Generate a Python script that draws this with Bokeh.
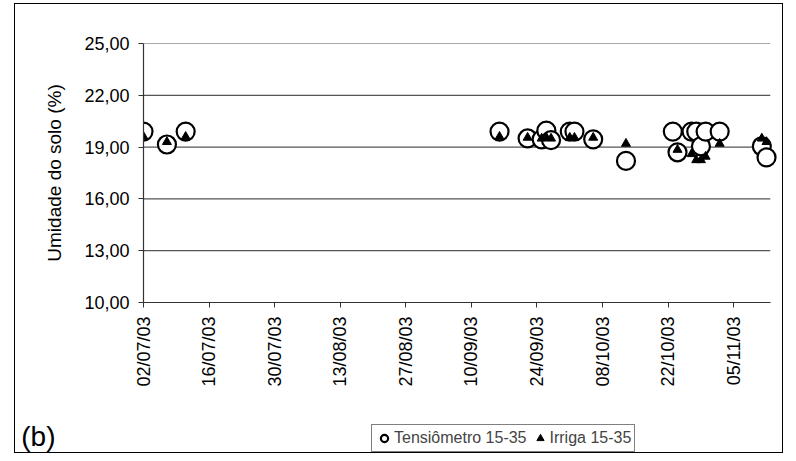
from datetime import datetime, timedelta
from bokeh.plotting import figure
from bokeh.layouts import column
from bokeh.models import (Range1d, FixedTicker, DatetimeTickFormatter, Legend,
                          LegendItem, ColumnDataSource)
from bokeh.embed import file_html
from bokeh.resources import INLINE

# ---- data ----
tens_dates = ["02/07/03", "07/07/03", "11/07/03", "16/09/03", "22/09/03", "25/09/03",
              "26/09/03", "27/09/03", "01/10/03", "02/10/03", "06/10/03", "13/10/03",
              "23/10/03", "24/10/03", "27/10/03", "28/10/03", "29/10/03", "30/10/03",
              "02/11/03", "11/11/03", "12/11/03"]
tens_vals = [19.9, 19.15, 19.9, 19.9, 19.5, 19.45, 19.95, 19.4, 19.9, 19.9, 19.45, 18.2,
             19.9, 18.7, 19.9, 19.9, 19.05, 19.9, 19.9, 19.05, 18.4]

irr_dates = ["02/07/03", "07/07/03", "11/07/03", "16/09/03", "22/09/03", "25/09/03",
             "26/09/03", "27/09/03", "01/10/03", "02/10/03", "06/10/03", "13/10/03",
             "24/10/03", "27/10/03", "28/10/03", "29/10/03", "30/10/03", "02/11/03",
             "11/11/03", "12/11/03"]
irr_vals = [19.6, 19.3, 19.6, 19.6, 19.55, 19.5, 19.55, 19.5, 19.55, 19.55, 19.55, 19.2,
            18.85, 18.6, 18.25, 18.25, 18.45, 19.2, 19.5, 19.3]

x_tick_labels = ["02/07/03", "16/07/03", "30/07/03", "13/08/03", "27/08/03", "10/09/03",
                 "24/09/03", "08/10/03", "22/10/03", "05/11/03"]
x_axis_min = "02/07/03"
y_ticks = [10, 13, 16, 19, 22, 25]
y_tick_labels = ["10,00", "13,00", "16,00", "19,00", "22,00", "25,00"]

series1_name = "Tensiômetro 15-35"
series2_name = "Irriga 15-35"
panel_tag = "(b)"

FONT = "Liberation Sans"


def to_dt(s):
    return datetime.strptime(s, "%d/%m/%y")


def to_ms(d):
    return (d - datetime(1970, 1, 1)).total_seconds() * 1000.0


tens_src = ColumnDataSource(dict(x=[to_dt(d) for d in tens_dates], y=tens_vals))
irr_src = ColumnDataSource(dict(x=[to_dt(d) for d in irr_dates], y=irr_vals))

x_start = to_dt(x_axis_min)
x_axis_end = x_start + timedelta(days=133.8)   # end of the axis line / grid lines
x_view_end = x_start + timedelta(days=136.2)   # a little room so edge markers are not cut

CIRCLE = dict(marker="circle", size=18, fill_color="white", line_color="black",
              line_width=2.2)
TRI = dict(marker="triangle", size=9, fill_color="black", line_color="black",
           line_width=1)

# ---------------- main chart ----------------
p = figure(width=796, height=410, output_backend="svg", toolbar_location=None,
           x_axis_type="datetime",
           x_range=Range1d(to_ms(x_start), to_ms(x_view_end)),
           y_range=Range1d(10, 25),
           min_border_left=143, min_border_right=15, min_border_top=43,
           min_border_bottom=108)
p.outline_line_color = None
p.background_fill_color = "white"
p.border_fill_color = "white"

p.xaxis.ticker = FixedTicker(ticks=[to_ms(to_dt(t)) for t in x_tick_labels])
p.xaxis.formatter = DatetimeTickFormatter(
    days="%d/%m/%y", months="%d/%m/%y", years="%d/%m/%y", hours="%d/%m/%y",
    hourmin="%d/%m/%y", minutes="%d/%m/%y", minsec="%d/%m/%y", seconds="%d/%m/%y",
    milliseconds="%d/%m/%y", microseconds="%d/%m/%y")
p.xaxis.major_label_orientation = 1.5707963
p.xaxis.bounds = (to_ms(x_start), to_ms(x_axis_end))
p.yaxis.ticker = FixedTicker(ticks=y_ticks)
p.yaxis.major_label_overrides = {t: l for t, l in zip(y_ticks, y_tick_labels)}
p.yaxis.axis_label = "Umidade do solo (%)"

for ax in (p.xaxis, p.yaxis):
    ax.axis_line_color = "#333333"
    ax.axis_line_width = 1.2
    ax.major_tick_line_color = "#333333"
    ax.major_tick_out = 5
    ax.major_tick_in = 0
    ax.minor_tick_line_color = None
    ax.major_label_text_font = FONT
    ax.major_label_text_font_size = "18px"
    ax.major_label_text_color = "black"
    ax.major_label_standoff = 9
p.yaxis.axis_label_text_font = FONT
p.yaxis.axis_label_text_font_size = "19px"
p.yaxis.axis_label_text_font_style = "normal"
p.yaxis.axis_label_text_color = "black"
p.yaxis.axis_label_standoff = 16

p.xgrid.grid_line_color = None
p.ygrid.grid_line_color = None
p.segment(x0=[x_start] * len(y_ticks), x1=[x_axis_end] * len(y_ticks),
          y0=y_ticks, y1=y_ticks, line_color="#555555", line_width=1.2)

p.scatter("x", "y", source=tens_src, **CIRCLE)
p.scatter("x", "y", source=irr_src, **TRI)

# ---------------- footer row: panel tag + legend ----------------
f = figure(width=796, height=51, output_backend="svg", toolbar_location=None,
           x_range=Range1d(0, 1), y_range=Range1d(0, 1),
           x_axis_location=None,
           min_border_left=0, min_border_right=0, min_border_top=0,
           min_border_bottom=0)
f.outline_line_color = None
f.xgrid.grid_line_color = None
f.ygrid.grid_line_color = None
f.background_fill_color = "white"
f.border_fill_color = "white"

# the panel tag "(b)" is carried by the footer's (otherwise invisible) left axis
f.yaxis.ticker = FixedTicker(ticks=[])
f.yaxis.axis_line_color = None
f.yaxis.major_tick_line_color = None
f.yaxis.minor_tick_line_color = None
f.yaxis.major_label_text_font_size = "0px"
f.yaxis.axis_label = panel_tag
f.yaxis.axis_label_orientation = "horizontal"
f.yaxis.axis_label_text_font = FONT
f.yaxis.axis_label_text_font_size = "28px"
f.yaxis.axis_label_text_font_style = "normal"
f.yaxis.axis_label_text_color = "black"
f.yaxis.axis_label_standoff = 88

# legend samples (kept outside the visible range; only their legend glyphs show)
l1 = f.scatter(x=[-5], y=[-5], **CIRCLE)
l2 = f.scatter(x=[-5], y=[-5], **TRI)

legend = Legend(items=[LegendItem(label=series1_name, renderers=[l1]),
                       LegendItem(label=series2_name, renderers=[l2])],
                orientation="horizontal", location=(228, 9),
                border_line_color="black", border_line_width=1,
                background_fill_color="white", background_fill_alpha=1,
                label_text_font=FONT, label_text_font_size="16px",
                glyph_width=18, glyph_height=20, label_standoff=1, spacing=4,
                padding=3, margin=0)
f.add_layout(legend, "center")

layout = column(p, f, spacing=0)
layout.stylesheets = [
    ":host { position: relative; }"
    ":host::after { content: ''; position: absolute; left: 14px; top: 3px;"
    " width: 769px; height: 450px; border: 1px solid black;"
    " box-sizing: border-box; pointer-events: none; }"
]

open("out.html", "w").write(file_html(layout, INLINE))
